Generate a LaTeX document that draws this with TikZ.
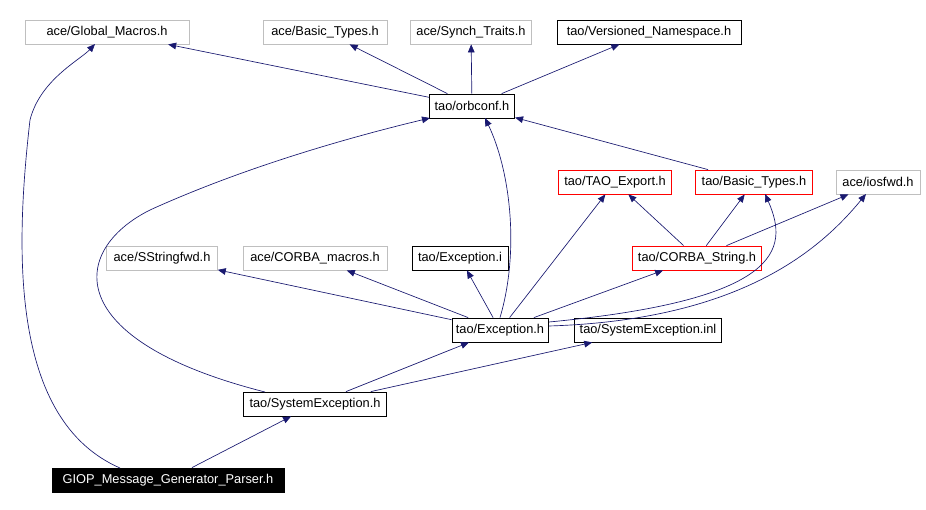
\documentclass[tikz,border=0pt]{standalone}
\usepackage{fontspec}
\setmainfont{Liberation Sans}
\usetikzlibrary{arrows.meta}
\definecolor{edge}{RGB}{25,25,112}
\definecolor{gb}{RGB}{191,191,191}
\begin{document}
\begin{tikzpicture}[x=0.75pt,y=-0.75pt,
  box/.style={draw=#1,fill=white,font=\fontsize{9.6}{11}\selectfont,inner sep=1pt,minimum height=18pt,line width=0.6pt},
  e/.style={draw=edge,line width=0.5pt,-{Triangle[length=6pt,width=5pt]}}]
\useasboundingbox (0,0) rectangle (926,510);
\node[box=gb,minimum width=123pt] (gm) at (107,32) {ace/Global\_Macros.h};
\node[box=gb,minimum width=93pt] (abt) at (325,32) {ace/Basic\_Types.h};
\node[box=gb,minimum width=91pt] (st) at (471,32) {ace/Synch\_Traits.h};
\node[box=black,minimum width=138pt] (vn) at (649,32) {tao/Versioned\_Namespace.h};
\node[box=black,minimum width=64pt] (oc) at (472,106) {tao/orbconf.h};
\node[box=red,minimum width=85pt] (te) at (615,182) {tao/TAO\_Export.h};
\node[box=red,minimum width=88pt] (tbt) at (754,182) {tao/Basic\_Types.h};
\node[box=gb,minimum width=63pt] (io) at (878,182) {ace/iosfwd.h};
\node[box=gb,minimum width=83pt] (ss) at (162,258) {ace/SStringfwd.h};
\node[box=gb,minimum width=108pt] (cm) at (315,258) {ace/CORBA\_macros.h};
\node[box=black,minimum width=72pt] (ei) at (460,258) {tao/Exception.i};
\node[box=red,minimum width=97pt] (cs) at (697,258) {tao/CORBA\_String.h};
\node[box=black,minimum width=72pt] (eh) at (500,330) {tao/Exception.h};
\node[box=black,minimum width=110pt] (sei) at (648,330) {tao/SystemException.inl};
\node[box=black,minimum width=107pt] (seh) at (315,404) {tao/SystemException.h};
\node[box=black,fill=black,text=white,minimum width=174pt] (giop) at (168,480) {GIOP\_Message\_Generator\_Parser.h};

\draw[e] (oc) -- (gm);
\draw[e] (oc) -- (abt);
\draw[e] (oc) -- (st);
\draw[e] (oc) -- (vn);
\draw[e] (tbt) -- (oc);
\draw[e] (eh.north) .. controls (520,250) and (510,170) .. (485,118);
\draw[e] (eh) -- (ss);
\draw[e] (eh) -- (cm);
\draw[e] (eh) -- (ei);
\draw[e] (eh) -- (te);
\draw[e] (eh) -- (cs);
\draw[e] (549,322) .. controls (780,300) and (790,250) .. (765,194);
\draw[e] (549,326) .. controls (740,320) and (820,250) .. (866,194);
\draw[e] (cs) -- (te);
\draw[e] (cs) -- (tbt);
\draw[e] (cs) -- (io);
\draw[e] (seh) -- (eh);
\draw[e] (seh) -- (sei);
\draw[e] (265,392) .. controls (60,340) and (70,250) .. (150,210) .. controls (260,160) and (380,130) .. (430,118);
\draw[e] (giop) -- (seh);
\draw[e] (120,468) .. controls (10,420) and (15,250) .. (30,120) .. controls (40,80) and (80,60) .. (95,44);
\end{tikzpicture}
\end{document}
